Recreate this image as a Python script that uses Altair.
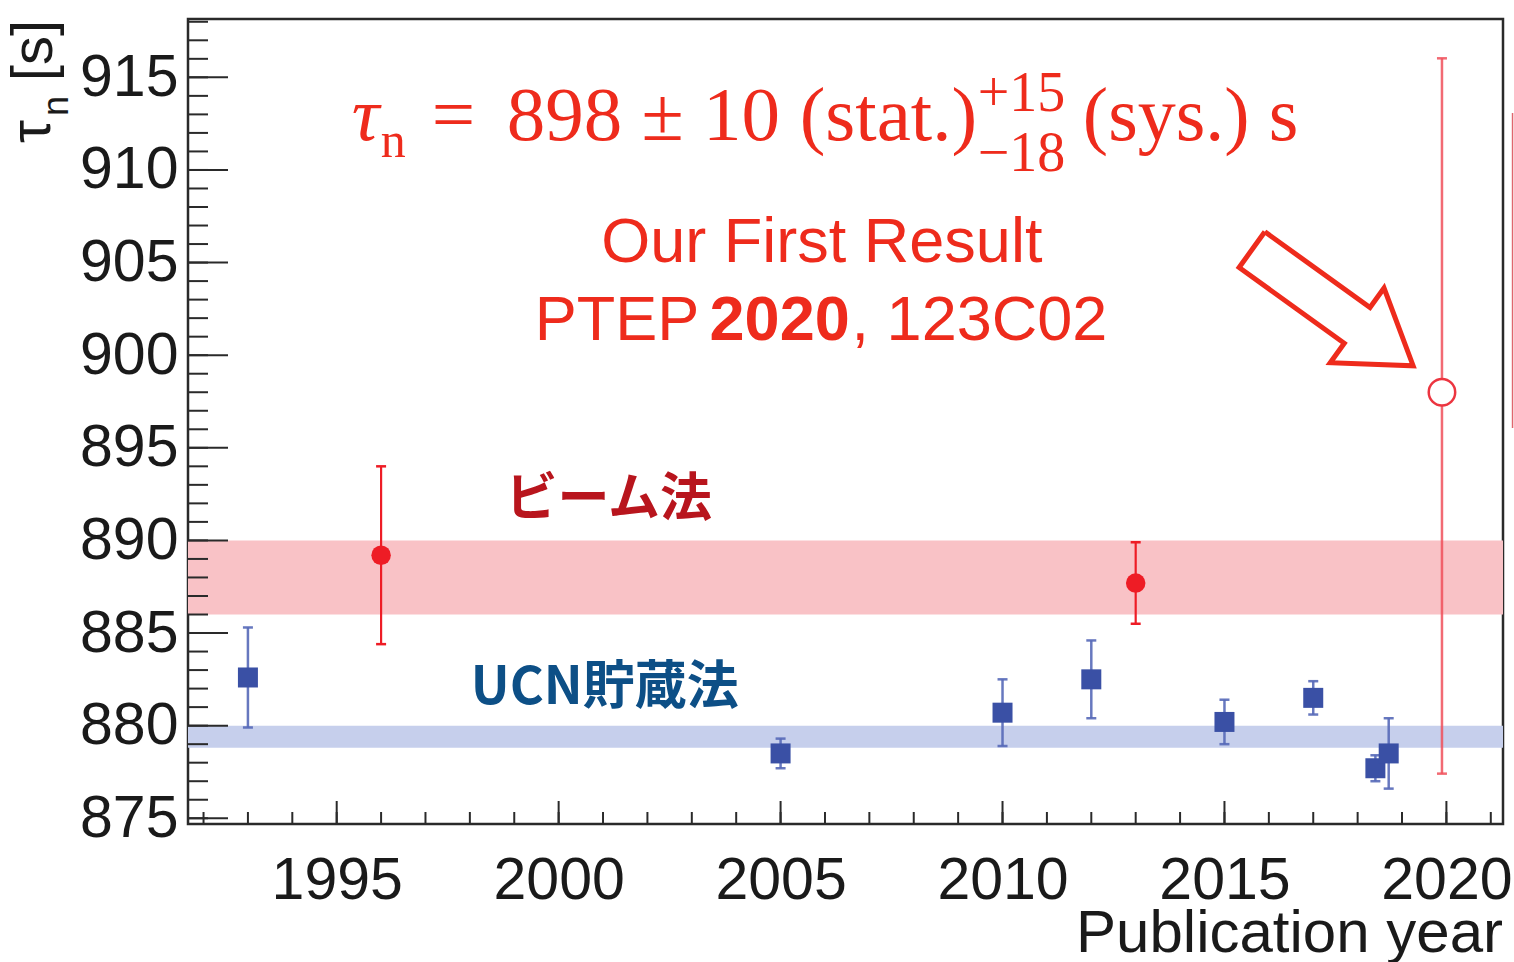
import math

import altair as alt
import pandas as pd

# ---------------------------------------------------------------- data
# UCN storage (bottle) measurements
ucn_year = [1993.0, 2005.0, 2010.0, 2012.0, 2015.0, 2017.0, 2018.4, 2018.7]
ucn_tau = [882.6, 878.5, 880.7, 882.5, 880.2, 881.5, 877.7, 878.5]
ucn_err = [2.7, 0.8, 1.8, 2.1, 1.2, 0.9, 0.7, 1.9]

# beam measurements
beam_year = [1996.0, 2013.0]
beam_tau = [889.2, 887.7]
beam_err = [4.8, 2.2]

# our result: 898 +- 10 (stat.) +15/-18 (sys.)
our_year = [2019.9]
our_tau = [898.0]
our_stat = [10.0]
our_sys_up = [15.0]
our_sys_dn = [18.0]

# averages of the two methods
beam_band = [886.0, 890.0]
ucn_band = [878.8, 880.0]

# axes
x_domain = [1991.65, 2021.275]
y_domain = [874.69, 918.15]
x_major = [1995, 2000, 2005, 2010, 2015, 2020]
y_major = [875, 880, 885, 890, 895, 900, 905, 910, 915]
x_minor = list(range(1992, 2022))
y_minor = list(range(875, 919))

W, H = 1315, 805
RED = "#ee2b1c"
MARK_RED = "#ee1c25"
BLUE = "#3a50a5"
AXIS = "#2a2a2a"
SANS = "Liberation Sans"
SERIF = "Liberation Serif"
CJK = "Noto Sans CJK JP"

xscale = alt.Scale(domain=x_domain, nice=False, zero=False)
yscale = alt.Scale(domain=y_domain, nice=False, zero=False)
xaxis = alt.Axis(values=x_major, format="d", ticks=False, domain=False, grid=False,
                 labelFontSize=59, labelFont=SANS, labelColor="#1a1a1a",
                 labelPadding=27, labelFlush=False, labelOverlap=False, title=None)
yaxis = alt.Axis(values=y_major, format="d", ticks=False, domain=False, grid=False,
                 labelFontSize=59, labelFont=SANS, labelColor="#1a1a1a",
                 labelPadding=10, labelOverlap=False, title=None)


def X(field):
    return alt.X(field, type="quantitative", scale=xscale, axis=xaxis)


def Y(field):
    return alt.Y(field, type="quantitative", scale=yscale, axis=yaxis)


def chart(df):
    return alt.Chart(pd.DataFrame(df))


# ---------------------------------------------------------------- bands
bands = chart({"lo": [beam_band[0], ucn_band[0]], "hi": [beam_band[1], ucn_band[1]],
               "c": ["#f9c2c6", "#c6cfec"]}).mark_rect().encode(
    x=alt.value(0), x2=alt.value(W), y=Y("lo"), y2=alt.Y2("hi"),
    color=alt.Color("c:N", scale=None))

# ---------------------------------------------------------------- ticks
ytick_major = chart({"v": y_major}).mark_rule(color=AXIS, strokeWidth=2).encode(
    y=Y("v"), x=alt.value(0), x2=alt.value(40))
ytick_minor = chart({"v": y_minor}).mark_rule(color=AXIS, strokeWidth=2).encode(
    y=Y("v"), x=alt.value(0), x2=alt.value(20))
xtick_major = chart({"v": x_major}).mark_rule(color=AXIS, strokeWidth=2).encode(
    x=X("v"), y=alt.value(H), y2=alt.value(H - 23))
xtick_minor = chart({"v": x_minor}).mark_rule(color=AXIS, strokeWidth=2).encode(
    x=X("v"), y=alt.value(H), y2=alt.value(H - 12))

# ---------------------------------------------------------------- measurements
ucn = pd.DataFrame({"year": ucn_year, "tau": ucn_tau,
                    "lo": [t - e for t, e in zip(ucn_tau, ucn_err)],
                    "hi": [t + e for t, e in zip(ucn_tau, ucn_err)]})
beam = pd.DataFrame({"year": beam_year, "tau": beam_tau,
                     "lo": [t - e for t, e in zip(beam_tau, beam_err)],
                     "hi": [t + e for t, e in zip(beam_tau, beam_err)]})
ours = pd.DataFrame({
    "year": our_year, "tau": our_tau,
    "lo": [t - math.hypot(s, d) for t, s, d in zip(our_tau, our_stat, our_sys_dn)],
    "hi": [t + math.hypot(s, u) for t, s, u in zip(our_tau, our_stat, our_sys_up)],
})


def errorbars(df, color, width, opacity):
    base = alt.Chart(df)
    rule = base.mark_rule(color=color, strokeWidth=width, opacity=opacity).encode(
        x=X("year"), y=Y("lo"), y2=alt.Y2("hi"))
    cap_lo = base.mark_tick(color=color, orient="horizontal", size=10, thickness=2.5,
                            opacity=opacity).encode(x=X("year"), y=Y("lo"))
    cap_hi = base.mark_tick(color=color, orient="horizontal", size=10, thickness=2.5,
                            opacity=opacity).encode(x=X("year"), y=Y("hi"))
    return [rule, cap_lo, cap_hi]


ucn_pts = alt.Chart(ucn).mark_point(shape="square", filled=True, size=400, color=BLUE,
                                    opacity=1).encode(x=X("year"), y=Y("tau"))
beam_pts = alt.Chart(beam).mark_point(shape="circle", filled=True, size=380,
                                      color=MARK_RED, opacity=1).encode(x=X("year"), y=Y("tau"))
our_pt = alt.Chart(ours).mark_point(shape="circle", filled=True, size=700, fill="white",
                                    stroke="#ec3540", strokeWidth=2.5, opacity=1).encode(
    x=X("year"), y=Y("tau"))

# ---------------------------------------------------------------- arrow
arrow_tail = (2015.62, 905.70)
arrow_tip = (2019.25, 899.43)
ppx = W / (x_domain[1] - x_domain[0])
ppy = H / (y_domain[1] - y_domain[0])
shaft_half, head_half, head_len = 22.0, 46.0, 69.0
tx, ty = arrow_tail[0] * ppx, arrow_tail[1] * ppy
hx, hy = arrow_tip[0] * ppx, arrow_tip[1] * ppy
L = math.hypot(hx - tx, hy - ty)
ux, uy = (hx - tx) / L, (hy - ty) / L
nx, ny = -uy, ux
outline = [
    (0, shaft_half), (L - head_len, shaft_half), (L - head_len, head_half), (L, 0),
    (L - head_len, -head_half), (L - head_len, -shaft_half), (0, -shaft_half),
    (0, shaft_half),
]
arrow_df = pd.DataFrame({
    "year": [(tx + a * ux + b * nx) / ppx for a, b in outline],
    "tau": [(ty + a * uy + b * ny) / ppy for a, b in outline],
    "i": list(range(len(outline))),
})
arrow = alt.Chart(arrow_df).mark_line(color=RED, strokeWidth=5, strokeJoin="miter").encode(
    x=X("year"), y=Y("tau"), order="i:Q")

# thin red line just beyond the right frame
edge_line = chart({"year": [2021.49], "lo": [896.07], "hi": [913.07]}).mark_rule(
    color="#e0666e", strokeWidth=1.5).encode(x=X("year"), y=Y("lo"), y2=alt.Y2("hi"))


# ---------------------------------------------------------------- annotations
def label(x, y, text, **kw):
    return chart({"x": [x], "y": [y], "t": [text]}).mark_text(**kw).encode(
        x=X("x"), y=Y("y"), text="t:N")


formula = [
    label(1995.34, 911.62, "τ", font=SERIF, fontStyle="italic", fontSize=77, color=RED,
          align="left", baseline="alphabetic"),
    label(1995.99, 910.70, "n", font=SERIF, fontSize=50, color=RED,
          align="left", baseline="alphabetic"),
    label(1997.14, 911.62, "=", font=SERIF, fontSize=77, color=RED,
          align="left", baseline="alphabetic"),
    label(1998.83, 911.62, "898 ± 10", font=SERIF, fontSize=77, color=RED,
          align="left", baseline="alphabetic"),
    label(2005.43, 911.62, "(stat.)", font=SERIF, fontSize=77, color=RED,
          align="left", baseline="alphabetic"),
    label(2009.44, 913.16, "+15", font=SERIF, fontSize=56, color=RED,
          align="left", baseline="alphabetic"),
    label(2009.44, 909.95, "−18", font=SERIF, fontSize=56, color=RED,
          align="left", baseline="alphabetic"),
    label(2011.81, 911.62, "(sys.) s", font=SERIF, fontSize=76, color=RED,
          align="left", baseline="alphabetic"),
]

result = [
    label(2005.93, 905.03, "Our First Result", font=SANS, fontSize=63, color=RED,
          align="center", baseline="alphabetic"),
    label(1999.46, 900.82, "PTEP", font=SANS, fontSize=63, color=RED,
          align="left", baseline="alphabetic"),
    label(2003.40, 900.82, "2020", font=SANS, fontSize=63, fontWeight="bold", color=RED,
          align="left", baseline="alphabetic"),
    label(2006.60, 900.82, ", 123C02", font=SANS, fontSize=63, color=RED,
          align="left", baseline="alphabetic"),
]

methods = [
    label(2001.13, 892.18, "ビーム法", font=CJK, fontSize=52, fontWeight="bold",
          color="#b8151d", align="center", baseline="middle"),
    label(2001.04, 882.03, "UCN貯蔵法", font=CJK, fontSize=52, fontWeight="bold",
          color="#0d4f86", align="center", baseline="middle"),
]


# axis titles, outside the plot area
def title(x, y, text, **kw):
    return chart({"t": [text]}).mark_text(color="#1a1a1a", font=SANS, **kw).encode(
        x=alt.value(x), y=alt.value(y), text="t:N")


titles = [
    title(W, 933, "Publication year", fontSize=60, align="right", baseline="alphabetic"),
    title(-136, 1, "[s]", fontSize=58, angle=270, align="right", baseline="alphabetic"),
    title(-138, 124, "τ", fontSize=58, angle=270, align="left", baseline="alphabetic"),
    title(-120, 97, "n", fontSize=36, angle=270, align="left", baseline="alphabetic"),
]

layers = ([bands, ytick_minor, ytick_major, xtick_minor, xtick_major]
          + errorbars(ucn, "#5669b8", 2.5, 0.9)
          + errorbars(beam, MARK_RED, 2.2, 1.0)
          + errorbars(ours, "#f0505a", 2.5, 0.85)
          + [ucn_pts, beam_pts, our_pt, arrow, edge_line]
          + formula + result + methods + titles)

chart_all = alt.layer(*layers).properties(
    width=W, height=H,
    padding={"left": 188, "top": 19, "right": 11, "bottom": 138},
    autosize=alt.AutoSizeParams(type="none"),
    background="white",
).configure_view(stroke=AXIS, strokeWidth=2.5)

chart_all.save("out.html", embed_options={"renderer": "svg", "actions": False})
